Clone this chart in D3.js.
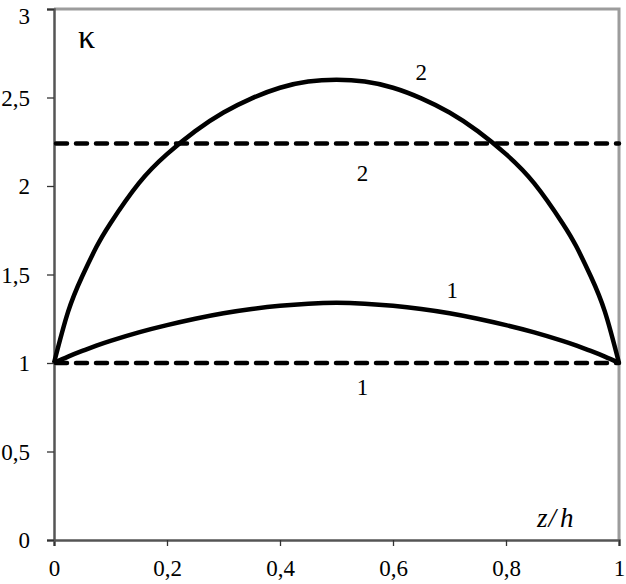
<!DOCTYPE html>
<html>
<head>
<meta charset="utf-8">
<script src="https://cdn.jsdelivr.net/npm/d3@7"></script>
<style>
  body { margin: 0; background: #fff; }
  svg { display: block; font-family: "Liberation Serif", "DejaVu Serif", serif; }
</style>
</head>
<body>
<svg id="chart" width="626" height="584"></svg>
<script>
// values
const zh = [0, 0.025, 0.05, 0.075, 0.1, 0.15, 0.2, 0.25, 0.3, 0.35, 0.4, 0.45, 0.5,
            0.55, 0.6, 0.65, 0.7, 0.75, 0.8, 0.85, 0.9, 0.925, 0.95, 0.975, 1];
const kappa2 = [1.00, 1.29, 1.49, 1.655, 1.79, 2.015, 2.18, 2.31, 2.415, 2.495, 2.555, 2.59, 2.60,
                2.59, 2.555, 2.495, 2.415, 2.31, 2.18, 2.015, 1.79, 1.655, 1.49, 1.29, 1.00];
const kappa1 = [1.00, 1.036, 1.068, 1.098, 1.125, 1.173, 1.214, 1.25, 1.281, 1.305, 1.323, 1.335, 1.34,
                1.335, 1.323, 1.305, 1.281, 1.25, 1.214, 1.173, 1.125, 1.098, 1.068, 1.036, 1.00];
const dashLevels = [1.0, 2.24];
const xTicks = [0, 0.2, 0.4, 0.6, 0.8, 1];
const yTicks = [0, 0.5, 1, 1.5, 2, 2.5, 3];
const curveLabels = [
  { x: 0.65, y: 2.60, text: "2" },
  { x: 0.546, y: 2.03, text: "2" },
  { x: 0.705, y: 1.37, text: "1" },
  { x: 0.546, y: 0.82, text: "1" }
];

const svg = d3.select("#chart");
const x = d3.scaleLinear().domain([0, 1]).range([54, 619]);
const y = d3.scaleLinear().domain([0, 3]).range([540, 9]);
const fmt = d => String(d).replace(".", ",");

// frame: light grey top and right
svg.append("path")
    .attr("d", `M${x(0)},${y(3)}H${x(1)}V${y(0)}`)
    .attr("fill", "none")
    .attr("stroke", "#9c9c9c")
    .attr("stroke-width", 3);

// axes
const xAxis = svg.append("g")
    .attr("transform", `translate(0,${y(0)})`)
    .call(d3.axisBottom(x).tickValues(xTicks).tickFormat(fmt).tickSize(6).tickPadding(14));
const yAxis = svg.append("g")
    .attr("transform", `translate(${x(0)},0)`)
    .call(d3.axisLeft(y).tickValues(yTicks).tickFormat(fmt).tickSize(7).tickPadding(17));

[xAxis, yAxis].forEach(g => {
    g.select(".domain").attr("stroke", "#555").attr("stroke-width", 2.5);
    g.selectAll(".tick line").attr("stroke", "#333").attr("stroke-width", 1.3);
    g.selectAll("text")
        .attr("font-family", "Liberation Serif, DejaVu Serif, serif")
        .attr("font-size", 23)
        .attr("fill", "#000");
});
yAxis.selectAll(".tick text").attr("dy", "0.33em");
// keep the top label inside the picture
yAxis.selectAll(".tick text").filter(d => d === 3).attr("dy", "0.62em");

// dashed levels
svg.append("g").selectAll("line")
    .data(dashLevels)
    .join("line")
    .attr("x1", x(0) + 2)
    .attr("x2", x(1))
    .attr("y1", d => y(d))
    .attr("y2", d => y(d))
    .attr("stroke", "#000")
    .attr("stroke-width", 4.5)
    .attr("stroke-linecap", "round")
    .attr("stroke-dasharray", "11,9");

// solid curves
const line = d3.line()
    .x((d, i) => x(zh[i]))
    .y(d => y(d))
    .curve(d3.curveNatural);

svg.append("g").selectAll("path")
    .data([kappa1, kappa2])
    .join("path")
    .attr("d", line)
    .attr("fill", "none")
    .attr("stroke", "#000")
    .attr("stroke-width", 4.5)
    .attr("stroke-linejoin", "round");

// curve numbers
svg.append("g").selectAll("text")
    .data(curveLabels)
    .join("text")
    .attr("x", d => x(d.x))
    .attr("y", d => y(d.y))
    .attr("text-anchor", "middle")
    .attr("font-size", 23)
    .text(d => d.text);

// axis titles
svg.append("text")
    .attr("x", 78)
    .attr("y", 48)
    .attr("font-size", 34)
    .text("κ");

const zt = svg.append("text")
    .attr("x", 537)
    .attr("y", 527)
    .attr("font-size", 27)
    .attr("font-style", "italic");
zt.append("tspan").text("z");
zt.append("tspan").attr("dx", 1).text("/");
zt.append("tspan").attr("dx", 4).text("h");
</script>
</body>
</html>
